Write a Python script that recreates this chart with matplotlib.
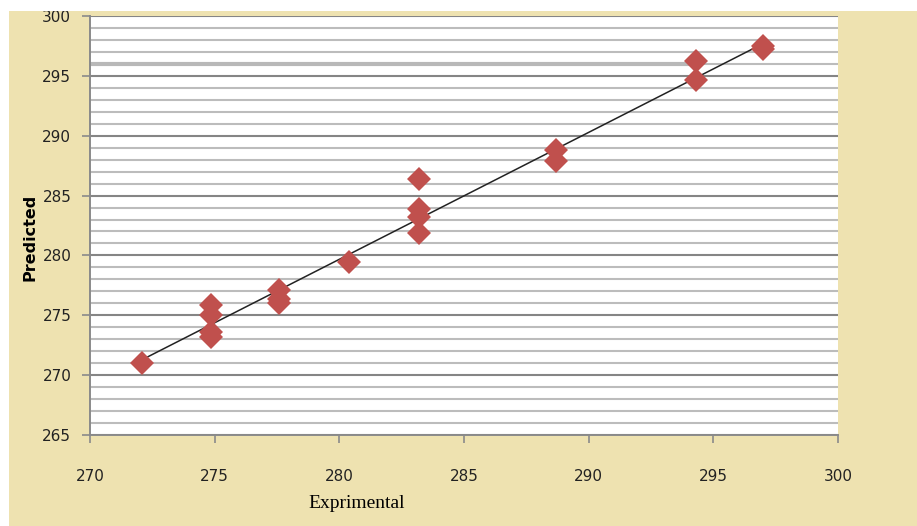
import matplotlib
matplotlib.use("Agg")
import matplotlib.pyplot as plt
from matplotlib.patches import Rectangle
import numpy as np

# ---- data ----
experimental = [272.1, 274.85, 274.85, 274.85, 274.85, 277.6, 277.6, 277.6, 280.4,
                283.2, 283.2, 283.2, 283.2, 288.7, 288.7, 294.3, 294.3, 297.0, 297.0]
predicted = [271.0, 275.85, 275.0, 273.6, 273.2, 277.1, 276.4, 276.0, 279.45,
             286.35, 283.9, 283.2, 281.85, 288.8, 287.9, 296.2, 294.65, 297.5, 297.25]
trend_x = [272.1, 297.0]
trend_y = [271.3, 297.7]
highlight_y = [296]
highlight_xmax = [294.3]
x_ticks = [270, 275, 280, 285, 290, 295, 300]
y_ticks = [265, 270, 275, 280, 285, 290, 295, 300]
x_label = "Exprimental"
y_label = "Predicted"

W, H, DPI = 917, 526, 100
fig = plt.figure(figsize=(W / DPI, H / DPI), dpi=DPI, facecolor="white")
beige = "#EEE2B0"
fig.patches.append(Rectangle((9 / W, 0), 1 - 9 / W, 1 - 11 / H, transform=fig.transFigure,
                             facecolor=beige, edgecolor="none", zorder=-10))

ax = fig.add_axes([90 / W, 1 - 435 / H, (838 - 90) / W, (435 - 16) / H])
ax.set_facecolor("white")
ax.set_xlim(270, 300)
ax.set_ylim(265, 300)

# gridlines
for v in np.arange(265, 301, 1):
    major = (v % 5 == 0)
    ax.axhline(v, color="#858585" if major else "#bcbcbc", lw=1.5, zorder=1)
ax.hlines(highlight_y, 270, highlight_xmax, color="#b8b8b8", lw=3, zorder=1)

ax.plot(trend_x, trend_y, color="#222222", lw=1.1, zorder=3)
ax.plot(experimental, predicted, linestyle="none", marker="D", markersize=12.5,
        color="#C0504D", markeredgewidth=0, zorder=4)

ax.set_xticks(x_ticks)
ax.set_yticks(y_ticks)
for s in ["top", "right"]:
    ax.spines[s].set_visible(False)
for s in ["left", "bottom"]:
    ax.spines[s].set_color("#8a8a8a")
    ax.spines[s].set_linewidth(1.4)
    ax.spines[s].set_zorder(5)
ax.tick_params(axis="x", direction="out", length=5.5, width=1.2, color="#8a8a8a",
               pad=19, labelsize=11, labelcolor="#222222")
ax.tick_params(axis="y", direction="out", length=5.5, width=1.2, color="#8a8a8a",
               pad=8, labelsize=11, labelcolor="#222222")

fig.text(357 / W, 1 - 503 / H, x_label, family="Liberation Serif", fontsize=14,
         ha="center", va="center", color="black")
fig.text(30 / W, 1 - 237 / H, y_label, family="DejaVu Sans", fontweight="bold",
         fontsize=11.5, rotation=90, ha="center", va="center", color="black")

# white strip on top (clips the top tick label like the reference)
fig.patches.append(Rectangle((0, 1 - 11 / H), 1, 11 / H, transform=fig.transFigure,
                             facecolor="white", edgecolor="none", zorder=50))

fig.savefig("out.png", dpi=DPI, facecolor=fig.get_facecolor())
